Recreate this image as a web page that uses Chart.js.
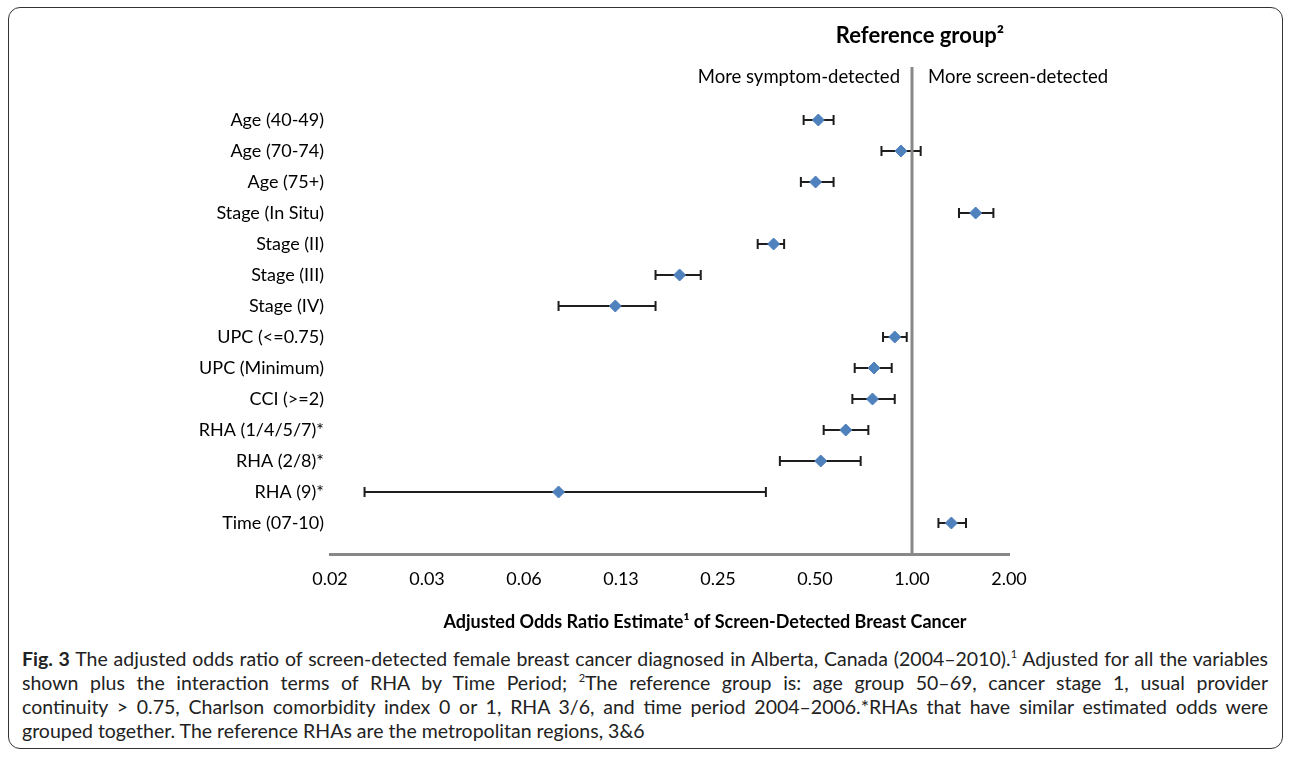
<!DOCTYPE html>
<html>
<head>
<meta charset="utf-8">
<script src="https://cdn.jsdelivr.net/npm/chart.js@4.4.1/dist/chart.umd.min.js"></script>
<style>
  body { margin: 0; background: #fff; width: 1292px; height: 757px; overflow: hidden; position: relative; font-family: Lato, "Noto Sans", sans-serif; }
  #frame { position: absolute; left: 8px; top: 7px; width: 1275px; height: 742px; border: 1.5px solid #333; border-radius: 12px; box-sizing: border-box; }
  #wrap { position: absolute; left: 0; top: 0; width: 1292px; height: 640px; }
  #caption { position: absolute; left: 22px; top: 647px; width: 1246px; font-size: 19.5px; line-height: 24px; color: #222; }
  #caption div { text-align: justify; text-align-last: justify; white-space: nowrap; }
  #caption div.last { text-align-last: left; }
  sup { font-size: 11px; line-height: 0; vertical-align: 8px; }
</style>
</head>
<body>
<div id="frame"></div>
<div id="wrap"><canvas id="forest" width="1292" height="640"></canvas></div>
<div id="caption">
  <div><b>Fig. 3</b> The adjusted odds ratio of screen-detected female breast cancer diagnosed in Alberta, Canada (2004–2010).<sup>1</sup> Adjusted for all the variables</div>
  <div>shown plus the interaction terms of RHA by Time Period; <sup>2</sup>The reference group is: age group 50–69, cancer stage 1, usual provider</div>
  <div>continuity &gt; 0.75, Charlson comorbidity index 0 or 1, RHA 3/6, and time period 2004–2006.*RHAs that have similar estimated odds were</div>
  <div class="last">grouped together. The reference RHAs are the metropolitan regions, 3&amp;6</div>
</div>
<script>
// valores (odds ratio ajustado + IC)
const rowLabels = ['Age (40-49)', 'Age (70-74)', 'Age (75+)', 'Stage (In Situ)', 'Stage (II)', 'Stage (III)',
    'Stage (IV)', 'UPC (<=0.75)', 'UPC (Minimum)', 'CCI (>=2)', 'RHA (1/4/5/7)*', 'RHA (2/8)*', 'RHA (9)*', 'Time (07-10)'];
const estimate = [0.512, 0.924, 0.502, 1.576, 0.372, 0.190, 0.120, 0.884, 0.762, 0.754, 0.623, 0.521, 0.080, 1.325];
const lower    = [0.461, 0.804, 0.452, 1.399, 0.332, 0.160, 0.080, 0.813, 0.664, 0.653, 0.532, 0.389, 0.020, 1.208];
const upper    = [0.571, 1.064, 0.571, 1.789, 0.401, 0.221, 0.160, 0.963, 0.865, 0.884, 0.732, 0.693, 0.352, 1.471];
const xTicks = [0.015625, 0.03125, 0.0625, 0.125, 0.25, 0.5, 1, 2];
const refValue = 1;

const FONT = 'Lato, "Noto Sans", sans-serif';

const errorBars = {
    id: 'errorBars',
    beforeDatasetsDraw(chart) {
        const { ctx, scales: { x, y } } = chart;
        ctx.save();
        ctx.strokeStyle = '#1e1e1e';
        ctx.lineWidth = 2;
        estimate.forEach((_, i) => {
            const py = y.getPixelForValue(i);
            const x1 = x.getPixelForValue(lower[i]);
            const x2 = x.getPixelForValue(upper[i]);
            ctx.beginPath();
            ctx.moveTo(x1, py); ctx.lineTo(x2, py);
            ctx.moveTo(x1, py - 5); ctx.lineTo(x1, py + 5);
            ctx.moveTo(x2, py - 5); ctx.lineTo(x2, py + 5);
            ctx.stroke();
        });
        ctx.restore();
    },
    afterDatasetsDraw(chart) {
        const { ctx, chartArea, scales: { x } } = chart;
        const px = x.getPixelForValue(refValue);
        ctx.save();
        ctx.strokeStyle = '#888';
        ctx.lineWidth = 3;
        ctx.beginPath();
        ctx.moveTo(px, chartArea.top);
        ctx.lineTo(px, chartArea.bottom);
        ctx.stroke();

        ctx.fillStyle = '#000';
        ctx.textBaseline = 'middle';
        ctx.font = 'bold 22px ' + FONT;
        ctx.textAlign = 'center';
        ctx.fillText('Reference group²', px + 8, 36);
        ctx.font = '18.5px ' + FONT;
        ctx.textAlign = 'right';
        ctx.fillText('More symptom-detected', px - 12, 77);
        ctx.textAlign = 'left';
        ctx.fillText('More screen-detected', px + 16, 77);
        ctx.font = 'bold 18px ' + FONT;
        ctx.textAlign = 'center';
        ctx.fillText('Adjusted Odds Ratio Estimate¹ of Screen-Detected Breast Cancer', 705, 622);
        ctx.restore();
    }
};

new Chart(document.getElementById('forest'), {
    type: 'scatter',
    data: {
        datasets: [{
            data: estimate.map((v, i) => ({ x: v, y: i })),
            pointStyle: 'rectRot',
            pointRadius: 6,
            pointHoverRadius: 6,
            backgroundColor: '#4f81bd',
            borderColor: '#4f81bd',
            borderWidth: 1
        }]
    },
    options: {
        responsive: false,
        animation: false,
        events: [],
        layout: { padding: { top: 67, right: 283, bottom: 26, left: 0 } },
        plugins: { legend: { display: false }, tooltip: { enabled: false } },
        scales: {
            x: {
                type: 'logarithmic',
                min: xTicks[0],
                max: xTicks[xTicks.length - 1],
                afterBuildTicks: s => { s.ticks = xTicks.map(v => ({ value: v })); },
                afterFit: s => { s.height = 60; },
                grid: { display: false, drawTicks: false },
                border: { display: true, color: '#888', width: 3 },
                ticks: {
                    padding: 14,
                    color: '#000',
                    font: { family: FONT, size: 18 },
                    maxRotation: 0,
                    callback: v => Number(v).toFixed(2)
                }
            },
            y: {
                type: 'linear',
                reverse: true,
                min: -1.71,
                max: 14,
                afterBuildTicks: s => { s.ticks = rowLabels.map((_, i) => ({ value: i })); },
                afterFit: s => { s.width = 330; },
                grid: { display: false, drawTicks: false },
                border: { display: false },
                ticks: {
                    padding: 6,
                    color: '#000',
                    font: { family: FONT, size: 18 },
                    callback: v => rowLabels[v]
                }
            }
        }
    },
    plugins: [errorBars]
});
</script>
</body>
</html>
